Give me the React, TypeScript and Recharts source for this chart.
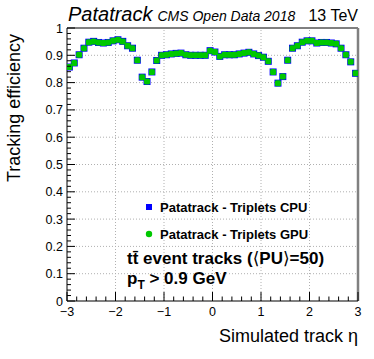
import { ScatterChart, Scatter, XAxis, YAxis, ReferenceLine } from 'recharts';

// bin centres in eta (bin width 0.1)
const etaBins = [
  -2.95, -2.85, -2.75, -2.65, -2.55, -2.45, -2.35, -2.25, -2.15, -2.05,
  -1.95, -1.85, -1.75, -1.65, -1.55, -1.45, -1.35, -1.25, -1.15, -1.05,
  -0.95, -0.85, -0.75, -0.65, -0.55, -0.45, -0.35, -0.25, -0.15, -0.05,
  0.05, 0.15, 0.25, 0.35, 0.45, 0.55, 0.65, 0.75, 0.85, 0.95,
  1.05, 1.15, 1.25, 1.35, 1.45, 1.55, 1.65, 1.75, 1.85, 1.95,
  2.05, 2.15, 2.25, 2.35, 2.45, 2.55, 2.65, 2.75, 2.85, 2.95,
];

const cpuEff = [
  0.857, 0.872, 0.902, 0.926, 0.948, 0.951, 0.947, 0.945, 0.947, 0.953,
  0.957, 0.951, 0.935, 0.926, 0.882, 0.82, 0.804, 0.839, 0.881, 0.9,
  0.902, 0.905, 0.907, 0.908, 0.902, 0.9, 0.9, 0.9, 0.9, 0.917,
  0.912, 0.896, 0.902, 0.902, 0.902, 0.905, 0.908, 0.911, 0.905, 0.899,
  0.893, 0.878, 0.839, 0.798, 0.822, 0.882, 0.926, 0.935, 0.948, 0.953,
  0.953, 0.945, 0.947, 0.947, 0.945, 0.942, 0.926, 0.902, 0.876, 0.834,
];

const gpuEff = [
  0.857, 0.872, 0.902, 0.926, 0.948, 0.951, 0.947, 0.945, 0.947, 0.953,
  0.957, 0.951, 0.935, 0.926, 0.882, 0.82, 0.804, 0.839, 0.881, 0.9,
  0.902, 0.905, 0.907, 0.908, 0.902, 0.9, 0.9, 0.9, 0.9, 0.917,
  0.912, 0.896, 0.902, 0.902, 0.902, 0.905, 0.908, 0.911, 0.905, 0.899,
  0.893, 0.878, 0.839, 0.798, 0.822, 0.882, 0.926, 0.935, 0.948, 0.953,
  0.953, 0.945, 0.947, 0.947, 0.945, 0.942, 0.926, 0.902, 0.876, 0.834,
];

const seriesNames = ['Patatrack - Triplets CPU', 'Patatrack - Triplets GPU'];

const xMajor = [-2, -1, 0, 1, 2];
const yMajor = [0.1, 0.2, 0.3, 0.4, 0.5, 0.6, 0.7, 0.8, 0.9];
// minor tick grid (majors are every 5th entry)
const xTicks = Array.from({ length: 31 }, (_, i) => Math.round((-3 + i * 0.2) * 100) / 100);
const yTicks = Array.from({ length: 51 }, (_, i) => Math.round(i * 2) / 100);

const cpuData = etaBins.map((eta, i) => ({ eta, eff: cpuEff[i] }));
const gpuData = etaBins.map((eta, i) => ({ eta, eff: gpuEff[i] }));

const FONT = '"Liberation Sans", Arial, Helvetica, sans-serif';
const BLUE = '#0000ff';
const GREEN = '#00c800';

const isMajor = (v: number, step: number) => Math.abs(v / step - Math.round(v / step)) < 1e-6;

const XTick = (props: any) => {
  const { x, y, payload } = props;
  const v = payload.value;
  const major = isMajor(v, 1);
  return (
    <g>
      <line x1={x} x2={x} y1={y} y2={y - (major ? 9 : 4.5)} stroke="#000" strokeWidth={1} />
      {major && (
        <text x={x} y={y + 14.5} textAnchor="middle" fontSize={12.5} fontFamily={FONT} fill="#000">
          {v < 0 ? '\u2212' + Math.abs(v) : String(v)}
        </text>
      )}
    </g>
  );
};

const YTick = (props: any) => {
  const { x, y, payload } = props;
  const v = payload.value;
  const major = isMajor(v, 0.1);
  const label = v === 0 ? '0' : v === 1 ? '1' : v.toFixed(1);
  return (
    <g>
      <line x1={x} x2={x + (major ? 8 : 4)} y1={y} y2={y} stroke="#000" strokeWidth={1} />
      {major && (
        <text x={x - 4} y={y + 4.5} textAnchor="end" fontSize={12.5} fontFamily={FONT} fill="#000">
          {label}
        </text>
      )}
    </g>
  );
};

const CpuMarker = (props: any) => {
  const { cx, cy } = props;
  return <rect x={cx - 3.5} y={cy - 3.5} width={7} height={7} fill={BLUE} />;
};

const GpuMarker = (props: any) => {
  const { cx, cy } = props;
  return <rect x={cx - 3} y={cy - 3} width={6} height={6} rx={1.5} fill={GREEN} />;
};

export default function App() {
  return (
    <div style={{ position: 'absolute', left: 0, top: 0, width: 374, height: 359, background: '#fff' }}>
      <ScatterChart width={374} height={359} margin={{ top: 28, right: 16, bottom: 28, left: 7 }}>
        <XAxis
          dataKey="eta"
          type="number"
          domain={[-3, 3]}
          ticks={xTicks}
          interval={0}
          tickSize={0}
          tickMargin={0}
          tickLine={false}
          tick={<XTick />}
          axisLine={{ stroke: '#000' }}
          height={30}
          allowDataOverflow
        />
        <YAxis
          dataKey="eff"
          type="number"
          domain={[0, 1]}
          ticks={yTicks}
          interval={0}
          tickSize={0}
          tickMargin={0}
          tickLine={false}
          tick={<YTick />}
          axisLine={{ stroke: '#000' }}
          width={60}
          allowDataOverflow
        />
        {xMajor.map((v) => (
          <ReferenceLine key={'x' + v} x={v} stroke="#b0b0b0" strokeDasharray="1 2" />
        ))}
        {yMajor.map((v) => (
          <ReferenceLine key={'y' + v} y={v} stroke="#b0b0b0" strokeDasharray="1 2" />
        ))}
        <ReferenceLine y={1} stroke="#000" />
        <ReferenceLine x={3} stroke="#808080" strokeWidth={2.5} />
        <Scatter name={seriesNames[0]} data={cpuData} shape={CpuMarker} isAnimationActive={false} />
        <Scatter name={seriesNames[1]} data={gpuData} shape={GpuMarker} isAnimationActive={false} />
      </ScatterChart>
      <svg
        width={374}
        height={359}
        style={{ position: 'absolute', left: 0, top: 0, pointerEvents: 'none' }}
        fontFamily={FONT}
      >
        <text x={68} y={21} fontSize={20} fontStyle="italic">
          Patatrack
          <tspan fontSize={14} dx={5}>CMS Open Data 2018</tspan>
        </text>
        <text x={358} y={21} fontSize={16} textAnchor="end">13 TeV</text>
        <text x={20} y={34} fontSize={18} textAnchor="end" transform="rotate(-90 20 34)">
          Tracking efficiency
        </text>
        <text x={358} y={342} fontSize={18} textAnchor="end">Simulated track η</text>

        <rect x={146} y={204} width={6} height={6} fill={BLUE} />
        <text x={160} y={212} fontSize={13} fontWeight="bold">{seriesNames[0]}</text>
        <circle cx={149} cy={234} r={3.2} fill={GREEN} />
        <text x={160} y={239} fontSize={13} fontWeight="bold">{seriesNames[1]}</text>

        <text x={127} y={264} fontSize={17} fontWeight="bold">
          tt̄ event tracks (
          <tspan fontFamily='"DejaVu Sans"' fontWeight="normal">⟨</tspan>PU
          <tspan fontFamily='"DejaVu Sans"' fontWeight="normal">⟩</tspan>=50)
        </text>
        <text x={127} y={284} fontSize={17} fontWeight="bold">
          p<tspan dy={5} fontSize={12}>T</tspan>
          <tspan dy={-5}> &gt; 0.9 GeV</tspan>
        </text>
      </svg>
    </div>
  );
}
